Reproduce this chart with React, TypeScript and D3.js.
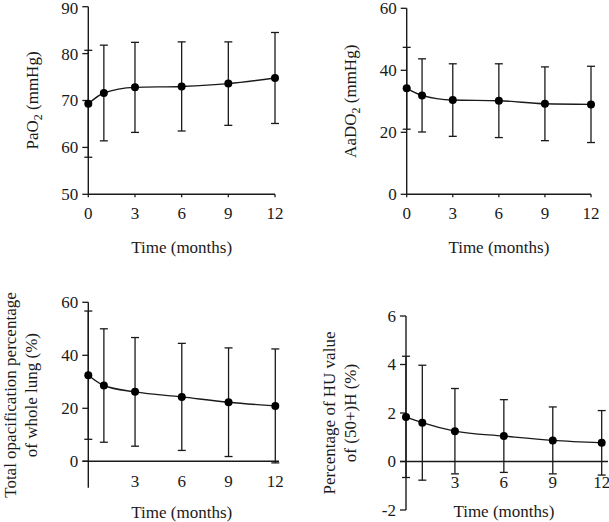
import React from "react";
import * as d3 from "d3";

const months = [0, 1, 3, 6, 9, 12];
const xTickLabels = [0, 3, 6, 9, 12];

const pao2Mean = [69.3, 71.6, 72.8, 73.0, 73.6, 74.8];
const pao2SD = [11.4, 10.2, 9.6, 9.5, 8.9, 9.7];
const pao2Ticks = [50, 60, 70, 80, 90];

const aado2Mean = [34.2, 31.9, 30.4, 30.2, 29.2, 29.0];
const aado2SD = [13.2, 11.8, 11.7, 11.9, 11.9, 12.3];
const aado2Ticks = [0, 20, 40, 60];

const opacMean = [32.5, 28.6, 26.2, 24.3, 22.3, 20.9];
const opacSD = [24.2, 21.4, 20.5, 20.2, 20.5, 21.5];
const opacTicks = [0, 20, 40, 60];

const huMean = [1.84, 1.6, 1.25, 1.05, 0.87, 0.77];
const huSD = [2.5, 2.37, 1.76, 1.5, 1.38, 1.33];
const huTicks = [-2, 0, 2, 4, 6];

const FONT = "'Liberation Serif', 'DejaVu Serif', serif";
const INK = "#1a1a1a";

type PanelProps = {
  mean: number[];
  sd: number[];
  yDomain: [number, number];
  yRange: [number, number];
  xRange: [number, number];
  yTicks: number[];
  xLabels: number[];
  xAxisAt: number;
  xLabelY: number;
  xTickMarks: boolean;
  titleY: number;
  yTitle: React.ReactNode;
  yTitleX: number;
  xAxisLeft?: number;
  xAxisRight?: number;
};

function Panel(p: PanelProps) {
  const x = d3.scaleLinear().domain([0, 12]).range(p.xRange);
  const y = d3.scaleLinear().domain(p.yDomain).range(p.yRange);
  const line = d3
    .line<number>()
    .x((_, i) => x(months[i]))
    .y((d) => y(d))
    .curve(d3.curveMonotoneX);
  const x0 = x(0);
  const yAx = y(p.xAxisAt);
  const yMid = (p.yRange[0] + p.yRange[1]) / 2;
  const cap = 4;
  return (
    <g fontFamily={FONT} fill={INK}>
      <line x1={x0} x2={x0} y1={p.yRange[0]} y2={p.yRange[1]} stroke={INK} strokeWidth={1.4} />
      {p.yTicks.map((t) => (
        <g key={t}>
          <line x1={x0 - 6} x2={x0} y1={y(t)} y2={y(t)} stroke={INK} strokeWidth={1.3} />
          <text
            x={x0 - 10}
            y={Math.max(y(t), 8)}
            dy="0.35em"
            textAnchor="end"
            fontSize={17}
          >
            {t}
          </text>
        </g>
      ))}
      <line
        x1={p.xAxisLeft ?? x0}
        x2={p.xAxisRight ?? x(12)}
        y1={yAx}
        y2={yAx}
        stroke={INK}
        strokeWidth={1.4}
      />
      {p.xLabels.map((t) => (
        <g key={t}>
          {p.xTickMarks && (
            <line x1={x(t)} x2={x(t)} y1={yAx} y2={yAx + 3} stroke={INK} strokeWidth={1.3} />
          )}
          <text x={x(t)} y={p.xLabelY} dy="0.35em" textAnchor="middle" fontSize={17}>
            {t}
          </text>
        </g>
      ))}
      {p.mean.map((m, i) => {
        const cx = x(months[i]);
        const hi = y(m + p.sd[i]);
        const lo = y(m - p.sd[i]);
        return (
          <g key={i} stroke={INK} strokeWidth={1.3}>
            <line x1={cx} x2={cx} y1={hi} y2={lo} />
            <line x1={cx - cap} x2={cx + cap} y1={hi} y2={hi} />
            <line x1={cx - cap} x2={cx + cap} y1={lo} y2={lo} />
          </g>
        );
      })}
      <path d={line(p.mean) ?? ""} fill="none" stroke={INK} strokeWidth={1.4} />
      {p.mean.map((m, i) => (
        <circle key={i} cx={x(months[i])} cy={y(m)} r={4} fill="#000" />
      ))}
      <text
        x={(x0 + x(12)) / 2}
        y={p.titleY}
        dy="0.35em"
        textAnchor="middle"
        fontSize={17}
      >
        Time (months)
      </text>
      <g transform={`translate(${p.yTitleX},${yMid}) rotate(-90)`}>{p.yTitle}</g>
    </g>
  );
}

export default function App() {
  return (
    <svg
      width={609}
      height={522}
      style={{ position: "absolute", left: 0, top: 0, background: "#fff" }}
    >
      <rect width={609} height={522} fill="#fff" />
      <Panel
        mean={pao2Mean}
        sd={pao2SD}
        yDomain={[50, 90]}
        yRange={[194.3, 6.7]}
        xRange={[88.3, 275]}
        yTicks={pao2Ticks}
        xLabels={xTickLabels}
        xAxisAt={50}
        xLabelY={213}
        xTickMarks={true}
        titleY={247}
        yTitleX={32}
        yTitle={
          <text textAnchor="middle" dy="0.35em" fontSize={17}>
            PaO<tspan fontSize={12} dy={4}>2</tspan>
            <tspan dy={-4}> (mmHg)</tspan>
          </text>
        }
      />
      <Panel
        mean={aado2Mean}
        sd={aado2SD}
        yDomain={[0, 60]}
        yRange={[194.3, 8.3]}
        xRange={[406.7, 591]}
        yTicks={aado2Ticks}
        xLabels={xTickLabels}
        xAxisAt={0}
        xLabelY={213}
        xTickMarks={true}
        titleY={247}
        yTitleX={350}
        yTitle={
          <text textAnchor="middle" dy="0.35em" fontSize={17}>
            AaDO<tspan fontSize={12} dy={4}>2</tspan>
            <tspan dy={-4}> (mmHg)</tspan>
          </text>
        }
      />
      <Panel
        mean={opacMean}
        sd={opacSD}
        yDomain={[-10, 60]}
        yRange={[487.8, 302.3]}
        xRange={[88.3, 275.3]}
        yTicks={opacTicks}
        xLabels={xTickLabels.filter((t) => t !== 0)}
        xAxisAt={0}
        xLabelY={481}
        xTickMarks={false}
        titleY={512}
        yTitleX={19}
        xAxisLeft={82.5}
        xAxisRight={279}
        yTitle={
          <g fontSize={17}>
            <text textAnchor="middle" dy="-0.2em">Total opacification percentage</text>
            <text textAnchor="middle" dy="1.05em">of whole lung (%)</text>
          </g>
        }
      />
      <Panel
        mean={huMean}
        sd={huSD}
        yDomain={[-2, 6]}
        yRange={[510, 316]}
        xRange={[406, 601.7]}
        yTicks={huTicks}
        xLabels={xTickLabels.filter((t) => t !== 0)}
        xAxisAt={0}
        xLabelY={482}
        xTickMarks={false}
        titleY={511}
        yTitleX={338}
        xAxisLeft={400}
        xAxisRight={608}
        yTitle={
          <g fontSize={17}>
            <text textAnchor="middle" dy="-0.2em">Percentage of HU value</text>
            <text textAnchor="middle" dy="1.05em">of (50+)H (%)</text>
          </g>
        }
      />
    </svg>
  );
}
